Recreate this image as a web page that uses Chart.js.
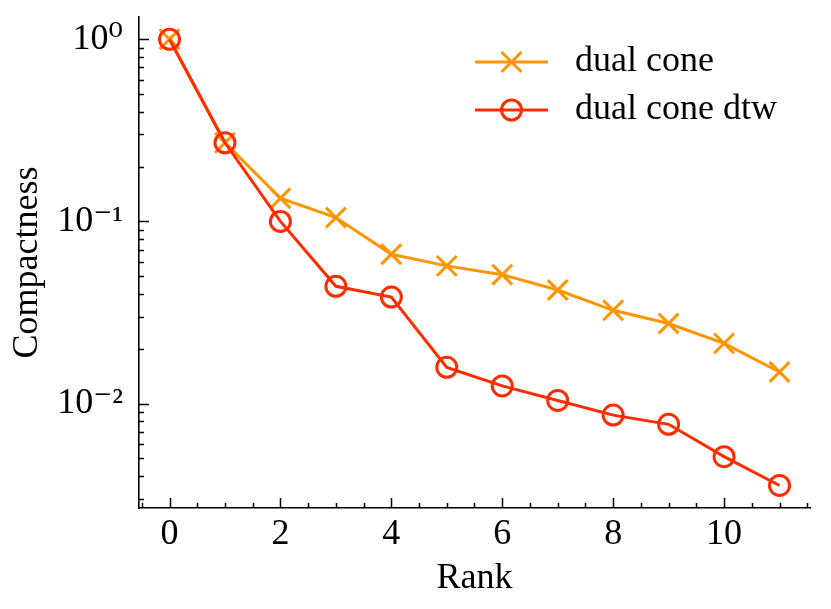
<!DOCTYPE html>
<html>
<head>
<meta charset="utf-8">
<script src="https://cdn.jsdelivr.net/npm/chart.js@4.4.0/dist/chart.umd.min.js"></script>
<style>
html, body { margin: 0; padding: 0; background: #fff; }
</style>
</head>
<body>
<canvas id="compactChart" width="831" height="609"></canvas>
<script>
// values
const ranks = [0, 1, 2, 3, 4, 5, 6, 7, 8, 9, 10, 11];
const dualCone = [1.0, 0.27, 0.134, 0.105, 0.066, 0.057, 0.051, 0.042, 0.0325, 0.0275, 0.0214, 0.0149];
const dualConeDtw = [1.0, 0.27, 0.100, 0.044, 0.0384, 0.0158, 0.0125, 0.0104, 0.00864, 0.00769, 0.00511, 0.00355];
const seriesNames = ['dual cone', 'dual cone dtw'];
const xMajorTicks = [0, 2, 4, 6, 8, 10];
const yMajorTicks = [0.01, 0.1, 1];
const yTickLabels = ['10\u207B\u00B2', '10\u207B\u00B9', '10\u2070'];

const ORANGE = '#FF9500';
const RED = '#FF2C00';
const FONT = '"Liberation Serif", "DejaVu Serif", serif';

// ticks drawn inward, like the matplotlib style
const inwardTicks = {
    id: 'inwardTicks',
    afterDraw(chart) {
        const { ctx, chartArea: a, scales: { x, y } } = chart;
        ctx.save();
        ctx.strokeStyle = '#000';
        ctx.lineWidth = 1.5;
        ctx.beginPath();
        x.ticks.forEach(t => {
            const px = Math.round(x.getPixelForValue(t.value)) + 0.5;
            ctx.moveTo(px, a.bottom);
            ctx.lineTo(px, a.bottom - (t.major ? 10 : 5));
        });
        y.ticks.forEach(t => {
            const py = Math.round(y.getPixelForValue(t.value)) + 0.5;
            ctx.moveTo(a.left, py);
            ctx.lineTo(a.left + (t.major ? 10 : 5), py);
        });
        ctx.stroke();
        ctx.restore();
    }
};

// legend with line + marker, inside the upper right corner
const lineLegend = {
    id: 'lineLegend',
    afterDraw(chart) {
        const { ctx, chartArea: a } = chart;
        const x0 = a.right - 335, x1 = a.right - 262, mx = (x0 + x1) / 2;
        ctx.save();
        chart.data.datasets.forEach((ds, i) => {
            const yy = a.top + 45 + i * 48;
            ctx.strokeStyle = ds.borderColor;
            ctx.lineWidth = 3;
            ctx.beginPath();
            ctx.moveTo(x0, yy);
            ctx.lineTo(x1, yy);
            ctx.stroke();
            ctx.beginPath();
            if (ds.pointStyle === 'crossRot') {
                const d = 10;
                ctx.moveTo(mx - d, yy - d); ctx.lineTo(mx + d, yy + d);
                ctx.moveTo(mx - d, yy + d); ctx.lineTo(mx + d, yy - d);
            } else {
                ctx.arc(mx, yy, ds.pointRadius, 0, Math.PI * 2);
            }
            ctx.stroke();
            ctx.fillStyle = '#000';
            ctx.font = '36px ' + FONT;
            ctx.textBaseline = 'middle';
            ctx.textAlign = 'left';
            ctx.fillText(ds.label, a.right - 235, yy);
        });
        ctx.restore();
    }
};

const ctx = document.getElementById('compactChart').getContext('2d');
new Chart(ctx, {
    type: 'line',
    data: {
        datasets: [{
            label: seriesNames[0],
            data: ranks.map((r, i) => ({ x: r, y: dualCone[i] })),
            borderColor: ORANGE,
            backgroundColor: ORANGE,
            borderWidth: 3,
            pointStyle: 'crossRot',
            pointRadius: 14,
            pointBorderWidth: 3,
            order: 1
        }, {
            label: seriesNames[1],
            data: ranks.map((r, i) => ({ x: r, y: dualConeDtw[i] })),
            borderColor: RED,
            backgroundColor: 'rgba(0,0,0,0)',
            borderWidth: 3,
            pointStyle: 'circle',
            pointRadius: 10,
            pointBorderWidth: 3,
            order: 0
        }]
    },
    options: {
        responsive: false,
        animation: false,
        events: [],
        clip: false,
        layout: { padding: { top: 9, right: 21, left: 0, bottom: 0 } },
        plugins: {
            legend: { display: false },
            tooltip: { enabled: false }
        },
        scales: {
            x: {
                type: 'linear',
                min: -0.55,
                max: 11.55,
                afterBuildTicks: scale => {
                    const t = [];
                    for (let v = -0.5; v <= 11.5; v += 0.5) {
                        t.push({ value: v, major: xMajorTicks.includes(v) });
                    }
                    scale.ticks = t;
                },
                afterFit: scale => {
                    scale.height = 101;
                    scale.paddingLeft = 0;
                    scale.paddingRight = 0;
                },
                grid: { display: false, drawTicks: false },
                border: { display: true, color: '#000', width: 1.6 },
                ticks: {
                    autoSkip: false,
                    maxRotation: 0,
                    padding: 5,
                    color: '#000',
                    font: { family: FONT, size: 36 },
                    callback: v => xMajorTicks.includes(v) ? String(v) : ''
                },
                title: {
                    display: true,
                    text: 'Rank',
                    color: '#000',
                    font: { family: FONT, size: 36 },
                    padding: { top: 0, bottom: 9 }
                }
            },
            y: {
                type: 'logarithmic',
                min: 0.00267,
                max: 1.325,
                afterBuildTicks: scale => {
                    const t = [];
                    [0.001, 0.01, 0.1].forEach(dec => {
                        for (let k = 2; k <= 9; k++) {
                            const v = k * dec;
                            if (v >= scale.min && v <= scale.max) t.push({ value: v, major: false });
                        }
                    });
                    yMajorTicks.forEach(v => t.push({ value: v, major: true }));
                    t.sort((p, q) => p.value - q.value);
                    scale.ticks = t;
                },
                afterFit: scale => {
                    scale.width = 139;
                    scale.paddingTop = 0;
                    scale.paddingBottom = 0;
                },
                grid: { display: false, drawTicks: false },
                border: { display: true, color: '#000', width: 1.6 },
                ticks: {
                    autoSkip: false,
                    padding: 16,
                    color: '#000',
                    font: { family: FONT, size: 36 },
                    callback: v => {
                        const i = yMajorTicks.indexOf(v);
                        return i >= 0 ? yTickLabels[i] : '';
                    }
                },
                title: {
                    display: true,
                    text: 'Compactness',
                    color: '#000',
                    font: { family: FONT, size: 36 },
                    padding: { top: 6, bottom: 0 }
                }
            }
        }
    },
    plugins: [inwardTicks, lineLegend]
});
</script>
</body>
</html>
